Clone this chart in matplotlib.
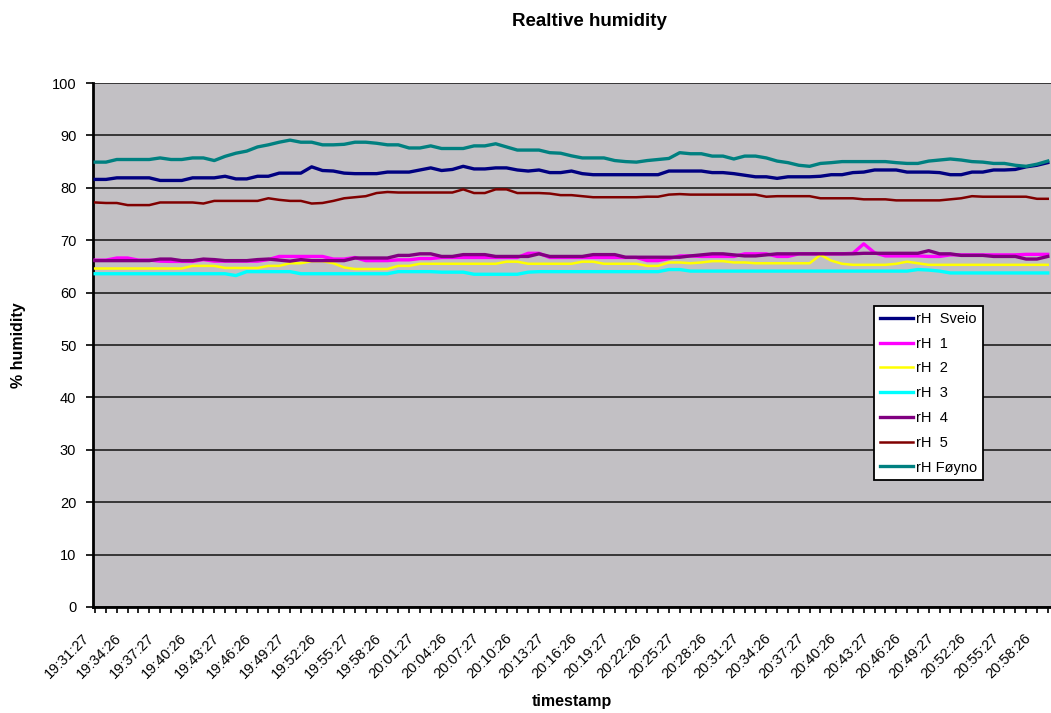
import numpy as np
import matplotlib
matplotlib.use("Agg")
import matplotlib.pyplot as plt
from matplotlib.transforms import ScaledTranslation

plt.rcParams['font.family'] = ['Liberation Sans', 'DejaVu Sans']

# Relative humidity readings, one per minute from 19:31:27
rh_sveio = [81.6, 81.6, 81.9, 81.9, 81.9, 81.9, 81.4, 81.4, 81.4, 81.9,
            81.9, 81.9, 82.2, 81.7, 81.7, 82.2, 82.2, 82.8, 82.8, 82.8,
            84.0, 83.3, 83.2, 82.8, 82.7, 82.7, 82.7, 83.0, 83.0, 83.0,
            83.4, 83.8, 83.3, 83.5, 84.1, 83.6, 83.6, 83.8, 83.8, 83.4,
            83.2, 83.4, 82.9, 82.9, 83.2, 82.7, 82.5, 82.5, 82.5, 82.5,
            82.5, 82.5, 82.5, 83.2, 83.2, 83.2, 83.2, 82.9, 82.9, 82.7,
            82.4, 82.1, 82.1, 81.8, 82.1, 82.1, 82.1, 82.2, 82.5, 82.5,
            82.9, 83.0, 83.4, 83.4, 83.4, 83.0, 83.0, 83.0, 82.9, 82.5,
            82.5, 83.0, 83.0, 83.4, 83.4, 83.5, 84.0, 84.3, 84.8]

rh_1 = [66.2, 66.2, 66.6, 66.6, 66.2, 66.2, 66.0, 65.95, 65.95, 65.95,
        66.3, 66.0, 66.0, 66.0, 66.0, 66.0, 66.3, 66.9, 66.9, 66.9,
        66.9, 66.9, 66.4, 66.4, 66.7, 66.1, 66.1, 66.1, 66.25, 66.25,
        66.5, 66.5, 66.7, 66.7, 66.7, 66.7, 66.7, 66.7, 66.7, 66.7,
        67.5, 67.5, 66.7, 66.7, 66.7, 66.7, 66.7, 66.7, 66.7, 66.7,
        66.7, 66.1, 66.1, 66.5, 67.0, 67.0, 66.9, 66.9, 66.9, 66.9,
        67.4, 67.4, 67.4, 66.9, 66.9, 67.4, 67.4, 67.4, 67.4, 67.4,
        67.5, 69.3, 67.6, 67.0, 67.0, 67.0, 67.0, 66.9, 66.9, 67.2,
        67.2, 67.2, 67.2, 67.2, 67.2, 67.2, 67.3, 67.3, 67.3]

rh_2 = [64.6, 64.6, 64.6, 64.6, 64.6, 64.6, 64.6, 64.6, 64.6, 65.1,
        65.1, 65.1, 64.7, 64.7, 64.7, 64.7, 65.1, 65.1, 65.6, 65.6,
        66.0, 66.0, 65.6, 64.8, 64.5, 64.5, 64.5, 64.5, 65.1, 65.1,
        65.5, 65.5, 65.5, 65.5, 65.5, 65.5, 65.5, 65.5, 65.9, 65.9,
        65.5, 65.5, 65.5, 65.5, 65.5, 65.9, 65.9, 65.5, 65.5, 65.5,
        65.5, 65.1, 65.1, 65.75, 65.75, 65.6, 65.75, 66.0, 66.0, 65.75,
        65.75, 65.6, 65.6, 65.6, 65.6, 65.6, 65.6, 67.2, 66.1, 65.5,
        65.3, 65.3, 65.3, 65.3, 65.5, 65.9, 65.6, 65.3, 65.3, 65.3,
        65.3, 65.3, 65.3, 65.3, 65.3, 65.3, 65.3, 65.3, 65.3]

rh_3 = [63.6, 63.6, 63.6, 63.6, 63.6, 63.6, 63.6, 63.6, 63.6, 63.6,
        63.6, 63.6, 63.6, 63.25, 64.0, 64.0, 64.0, 64.0, 64.0, 63.6,
        63.6, 63.6, 63.6, 63.6, 63.6, 63.6, 63.6, 63.6, 64.0, 64.0,
        64.0, 64.0, 63.9, 63.9, 63.9, 63.5, 63.5, 63.5, 63.5, 63.5,
        63.9, 64.0, 64.0, 64.0, 64.0, 64.0, 64.0, 64.0, 64.0, 64.0,
        64.0, 64.0, 64.0, 64.4, 64.4, 64.1, 64.1, 64.1, 64.1, 64.1,
        64.1, 64.1, 64.1, 64.1, 64.1, 64.1, 64.1, 64.1, 64.1, 64.1,
        64.1, 64.1, 64.1, 64.1, 64.1, 64.1, 64.4, 64.3, 64.1, 63.75,
        63.75, 63.75, 63.75, 63.75, 63.75, 63.75, 63.75, 63.75, 63.75]

rh_4 = [66.1, 66.1, 66.1, 66.1, 66.1, 66.1, 66.4, 66.4, 66.1, 66.1,
        66.4, 66.3, 66.1, 66.1, 66.1, 66.3, 66.4, 66.2, 66.0, 66.3,
        66.1, 66.1, 66.1, 66.1, 66.6, 66.6, 66.6, 66.6, 67.1, 67.1,
        67.4, 67.4, 66.9, 66.9, 67.25, 67.25, 67.25, 66.9, 66.9, 66.9,
        66.9, 67.4, 66.9, 66.9, 66.9, 66.9, 67.25, 67.25, 67.25, 66.75,
        66.75, 66.75, 66.75, 66.75, 66.75, 67.0, 67.2, 67.4, 67.4, 67.2,
        67.0, 67.0, 67.2, 67.4, 67.4, 67.4, 67.4, 67.4, 67.4, 67.4,
        67.4, 67.5, 67.5, 67.5, 67.5, 67.5, 67.5, 68.0, 67.4, 67.4,
        67.1, 67.1, 67.1, 66.9, 66.9, 66.9, 66.4, 66.4, 66.9]

rh_5 = [77.2, 77.1, 77.1, 76.7, 76.7, 76.7, 77.2, 77.2, 77.2, 77.2,
        77.0, 77.5, 77.5, 77.5, 77.5, 77.5, 78.0, 77.7, 77.5, 77.5,
        77.0, 77.1, 77.5, 78.0, 78.2, 78.4, 79.0, 79.2, 79.1, 79.1,
        79.1, 79.1, 79.1, 79.1, 79.7, 79.0, 79.0, 79.7, 79.7, 79.0,
        79.0, 79.0, 78.9, 78.6, 78.6, 78.4, 78.2, 78.2, 78.2, 78.2,
        78.2, 78.3, 78.3, 78.7, 78.8, 78.7, 78.7, 78.7, 78.7, 78.7,
        78.7, 78.7, 78.3, 78.4, 78.4, 78.4, 78.4, 78.0, 78.0, 78.0,
        78.0, 77.8, 77.8, 77.8, 77.6, 77.6, 77.6, 77.6, 77.6, 77.8,
        78.0, 78.4, 78.3, 78.3, 78.3, 78.3, 78.3, 77.9, 77.9]

rh_foyno = [84.9, 84.9, 85.4, 85.4, 85.4, 85.4, 85.7, 85.4, 85.4, 85.7,
            85.7, 85.2, 86.0, 86.6, 87.0, 87.8, 88.2, 88.7, 89.1, 88.7,
            88.7, 88.2, 88.2, 88.3, 88.7, 88.7, 88.5, 88.2, 88.2, 87.6,
            87.6, 88.0, 87.5, 87.5, 87.5, 88.0, 88.0, 88.4, 87.8, 87.2,
            87.2, 87.2, 86.7, 86.6, 86.1, 85.7, 85.7, 85.7, 85.2, 85.0,
            84.9, 85.2, 85.4, 85.6, 86.7, 86.5, 86.5, 86.05, 86.05, 85.5,
            86.05, 86.05, 85.7, 85.1, 84.8, 84.3, 84.1, 84.65, 84.8, 85.0,
            85.0, 85.0, 85.0, 85.0, 84.8, 84.65, 84.65, 85.1, 85.3, 85.5,
            85.3, 85.0, 84.9, 84.65, 84.65, 84.3, 84.1, 84.5, 85.1]

time_labels = ["19:31:27", "19:34:26", "19:37:27", "19:40:26", "19:43:27",
               "19:46:26", "19:49:27", "19:52:26", "19:55:27", "19:58:26",
               "20:01:27", "20:04:26", "20:07:27", "20:10:26", "20:13:27",
               "20:16:26", "20:19:27", "20:22:26", "20:25:27", "20:28:26",
               "20:31:27", "20:34:26", "20:37:27", "20:40:26", "20:43:27",
               "20:46:26", "20:49:27", "20:52:26", "20:55:27", "20:58:26"]

series_names = ["rH  Sveio", "rH  1", "rH  2", "rH  3", "rH  4", "rH  5", "rH Føyno"]
series_colors = ["#000080", "#ff00ff", "#ffff00", "#00ffff", "#800080", "#800000", "#008080"]
series_widths = [2.4, 2.4, 1.8, 2.4, 2.4, 1.8, 2.4]
series_values = [rh_sveio, rh_1, rh_2, rh_3, rh_4, rh_5, rh_foyno]

minutes = np.arange(len(rh_sveio))

fig = plt.figure(figsize=(10.51, 7.13), dpi=100)
ax = fig.add_axes([93 / 1051, 106 / 713, 958 / 1051, 524 / 713])
ax.set_facecolor("#c2c0c4")

for vals, name, col, lw in zip(series_values, series_names, series_colors, series_widths):
    ax.plot(minutes, vals, color=col, lw=lw, label=name, zorder=3)

ax.set_ylim(0, 100)
ax.set_xlim(-0.2, 88.3)
ax.set_yticks(np.arange(0, 101, 10))
ax.yaxis.grid(True, color="#111111", lw=1.1, zorder=1)
ax.set_axisbelow(True)

# one tick per minute, a time label every third tick
tick_pos = np.arange(0, 89)
tick_lab = []
for m in tick_pos:
    tick_lab.append(time_labels[m // 3] if m % 3 == 0 and m // 3 < len(time_labels) else "")
ax.set_xticks(tick_pos)
ax.set_xticklabels(tick_lab, rotation=45, ha="right", va="center",
                   rotation_mode="anchor", fontsize=10.5)
ax.tick_params(axis="x", direction="out", length=4, width=1.2, pad=17)
ax.tick_params(axis="y", direction="out", length=5, width=1.2, pad=7, labelsize=10.5)
shift = ScaledTranslation(-8 / 100, 0, fig.dpi_scale_trans)
for lab in ax.get_xticklabels():
    lab.set_transform(lab.get_transform() + shift)

for side in ("top", "right"):
    ax.spines[side].set_visible(False)
ax.spines["left"].set_linewidth(2.0)
ax.spines["bottom"].set_linewidth(2.0)

ax.set_ylabel("% humidity", fontsize=11.5, fontweight="bold", va="center")
ax.yaxis.set_label_coords(-0.078, 0.5)
ax.set_xlabel("timestamp", fontsize=11.5, fontweight="bold", va="center")
ax.xaxis.set_label_coords(0.5, -0.181)

fig.text(589 / 1051, 1 - 22 / 713, "Realtive humidity", ha="center", va="center",
         fontsize=13.5, fontweight="bold")

leg = ax.legend(loc="upper left", bbox_to_anchor=(874 / 1051, 1 - 306 / 713),
                bbox_transform=fig.transFigure, fontsize=10.5, frameon=True,
                fancybox=False, framealpha=1, edgecolor="black",
                handlelength=2.3, handletextpad=0.15, borderpad=0.4,
                labelspacing=0.74, borderaxespad=0)
leg.get_frame().set_linewidth(1.3)

fig.savefig("out.png", dpi=100)
